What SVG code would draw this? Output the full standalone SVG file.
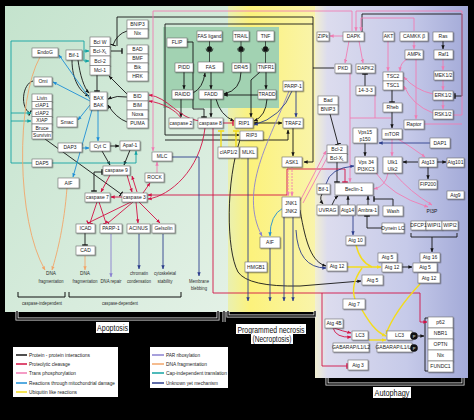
<svg xmlns="http://www.w3.org/2000/svg" width="474" height="420" viewBox="0 0 474 420">
<defs>
<linearGradient id="gG" x1="0" y1="0" x2="1" y2="1"><stop offset="0" stop-color="#c4e3cd"/><stop offset="1" stop-color="#e3f1e6"/></linearGradient>
<linearGradient id="gY" x1="0" y1="0" x2="1" y2="0"><stop offset="0" stop-color="#eaf0b0"/><stop offset="0.25" stop-color="#fcf27c"/><stop offset="1" stop-color="#f9f4ac"/></linearGradient>
<linearGradient id="gA" x1="0" y1="0" x2="1" y2="0"><stop offset="0" stop-color="#f2efd2"/><stop offset="0.08" stop-color="#dcdcee"/><stop offset="0.6" stop-color="#c6cae9"/><stop offset="1" stop-color="#a3aad8"/></linearGradient>
<filter id="sh" x="-20%" y="-20%" width="150%" height="160%"><feDropShadow dx="0.8" dy="0.8" stdDeviation="0.3" flood-color="#000" flood-opacity="0.45"/></filter>
<marker id="ak" viewBox="0 0 6 6" refX="5.5" refY="3" markerWidth="4" markerHeight="4" markerUnits="userSpaceOnUse" orient="auto-start-reverse"><path d="M0,0.5L6,3L0,5.5z" fill="#151515"/></marker>
<marker id="ar" viewBox="0 0 6 6" refX="5.5" refY="3" markerWidth="4" markerHeight="4" markerUnits="userSpaceOnUse" orient="auto-start-reverse"><path d="M0,0.5L6,3L0,5.5z" fill="#d31245"/></marker>
<marker id="ap" viewBox="0 0 6 6" refX="5.5" refY="3" markerWidth="4" markerHeight="4" markerUnits="userSpaceOnUse" orient="auto-start-reverse"><path d="M0,0.5L6,3L0,5.5z" fill="#f07db3"/></marker>
<marker id="ab" viewBox="0 0 6 6" refX="5.5" refY="3" markerWidth="4" markerHeight="4" markerUnits="userSpaceOnUse" orient="auto-start-reverse"><path d="M0,0.5L6,3L0,5.5z" fill="#1e8fd6"/></marker>
<marker id="ay" viewBox="0 0 6 6" refX="5.5" refY="3" markerWidth="4.5" markerHeight="4.5" markerUnits="userSpaceOnUse" orient="auto-start-reverse"><path d="M0,0.5L6,3L0,5.5z" fill="#f3dc1c"/></marker>
<marker id="alv" viewBox="0 0 6 6" refX="5.5" refY="3" markerWidth="4" markerHeight="4" markerUnits="userSpaceOnUse" orient="auto-start-reverse"><path d="M0,0.5L6,3L0,5.5z" fill="#8a80d0"/></marker>
<marker id="ao" viewBox="0 0 6 6" refX="5.5" refY="3" markerWidth="4" markerHeight="4" markerUnits="userSpaceOnUse" orient="auto-start-reverse"><path d="M0,0.5L6,3L0,5.5z" fill="#f2a66a"/></marker>
<marker id="at" viewBox="0 0 6 6" refX="5.5" refY="3" markerWidth="4" markerHeight="4" markerUnits="userSpaceOnUse" orient="auto-start-reverse"><path d="M0,0.5L6,3L0,5.5z" fill="#13a3a3"/></marker>
<marker id="an" viewBox="0 0 6 6" refX="5.5" refY="3" markerWidth="4" markerHeight="4" markerUnits="userSpaceOnUse" orient="auto-start-reverse"><path d="M0,0.5L6,3L0,5.5z" fill="#2c3e8c"/></marker>
<marker id="tk" viewBox="0 0 2 8" refX="1" refY="4" markerWidth="1.4" markerHeight="6" markerUnits="userSpaceOnUse" orient="auto"><rect width="2" height="8" fill="#151515"/></marker>
<marker id="tr" viewBox="0 0 2 8" refX="1" refY="4" markerWidth="1.4" markerHeight="6" markerUnits="userSpaceOnUse" orient="auto"><rect width="2" height="8" fill="#d31245"/></marker>
<marker id="ty" viewBox="0 0 2 8" refX="1" refY="4" markerWidth="1.6" markerHeight="7" markerUnits="userSpaceOnUse" orient="auto"><rect width="2" height="8" fill="#f3dc1c"/></marker>
</defs>
<style>
.n rect{fill:#fff;stroke:#6f6f6f;stroke-width:0.6;filter:url(#sh)}
.n text,.t{font-family:"Liberation Sans",Arial,sans-serif;font-size:5px;fill:#1a1a1a;text-anchor:middle}
.s{font-size:4.5px}
.lab{font-family:"Liberation Sans",Arial,sans-serif;font-size:4.7px;fill:#2a2a2a;text-anchor:middle}
.big{font-family:"Liberation Sans",Arial,sans-serif;font-size:9px;fill:#111;text-anchor:middle}
.leg{font-family:"Liberation Sans",Arial,sans-serif;font-size:6px;fill:#222}
#connectors path{fill:none;stroke-width:0.9}
.k{stroke:#151515}.r{stroke:#d31245}.p{stroke:#f07db3}.bl{stroke:#1e8fd6}.y{stroke:#f3dc1c;stroke-width:1.4!important}
.lv{stroke:#8a80d0}.o{stroke:#f2a66a}.tl{stroke:#13a3a3}.nv{stroke:#2c3e8c}
.br{fill:none;stroke:#111;stroke-width:1}
.bw{fill:none;stroke:#e8e8e8;stroke-width:3}
.bb{fill:none;stroke:#111;stroke-width:1.4}
</style>
<rect width="474" height="420" fill="#000"/>
<g id="panels">
<rect x="5" y="6" width="225" height="306" fill="url(#gG)"/>
<rect x="228" y="6" width="90" height="306" fill="url(#gY)"/>
<rect x="163" y="27" width="116" height="81" fill="#a2d2b2"/>
<rect x="315" y="6" width="153" height="372" fill="url(#gA)"/>
</g>
<g id="connectors">
<path class="k" d="M72,60 C72,80 80,92 89,96" marker-end="url(#ak)"/>
<path class="k" d="M78,60 C80,75 84,88 89,93" marker-end="url(#ak)"/>
<path class="k" d="M97,75 V91" marker-end="url(#tk)"/>
<path class="k" d="M127,94 L109,76" marker-end="url(#ak)"/>
<path class="k" d="M127,97 Q117,95 108,99" marker-end="url(#ak)"/>
<path class="k" d="M127,122 Q116,118 108,105" marker-end="url(#ak)"/>
<path class="k" d="M111,51 H122" marker-end="url(#tk)"/>
<path class="k" d="M127,31 Q117,34 113,45" marker-end="url(#tk)"/>
<path class="k" d="M117,46 V17 H313 V162 H304" marker-end="url(#ak)"/>
<path class="k" d="M334,68 H313"/>
<path class="k" d="M313,24 H165 V135 H239" marker-end="url(#ak)"/>
<path class="k" d="M165,140 H288 V130" marker-end="url(#ak)"/>
<path class="k" d="M362,32 V14 H462 V96 H455" marker-end="url(#tk)"/>
<path class="k" d="M110,146 H119" marker-end="url(#ak)"/>
<path class="k" d="M102,151 L110,165" marker-end="url(#ak)"/>
<path class="k" d="M130,150 L124,165" marker-end="url(#ak)"/>
<path class="k" d="M45,139 L121,194" marker-end="url(#tk)"/>
<path class="k" d="M94,172 H102" marker-end="url(#tk)"/>
<path class="k" d="M94,172 V191" marker-end="url(#tk)"/>
<path class="k" d="M33,81 C22,84 20,108 30,113" marker-end="url(#tk)"/>
<path class="k" d="M85,233 V245" marker-end="url(#tk)"/>
<path class="k" d="M184,72 V89" marker-end="url(#ak)"/>
<path class="k" d="M181,99 V117" marker-end="url(#ak)"/>
<path class="k" d="M211,72 V89" marker-end="url(#ak)"/>
<path class="k" d="M211,99 V117" marker-end="url(#ak)"/>
<path class="k" d="M193,93 Q203,88 205,73" marker-end="url(#ak)"/>
<path class="k" d="M241,72 Q241,90 224,94" marker-end="url(#ak)"/>
<path class="k" d="M266,72 V89" marker-end="url(#ak)"/>
<path class="k" d="M258,95 H224" marker-end="url(#ak)"/>
<path class="k" d="M267,99 Q266,116 254,121" marker-end="url(#ak)"/>
<path class="k" d="M260,72 L251,80 V117" marker-end="url(#ak)"/>
<path class="k" d="M216,99 Q220,115 234,121" marker-end="url(#ak)"/>
<path class="k" d="M187,42 H193 V109 H204 V117" marker-end="url(#tk)"/>
<path class="k" d="M254,123 H282" marker-start="url(#ak)" marker-end="url(#ak)"/>
<path class="k" d="M293,128 V156" marker-end="url(#ak)"/>
<path class="k" d="M365,86 V74" marker-end="url(#tk)"/>
<path class="k" d="M392,90 V102" marker-end="url(#tk)"/>
<path class="k" d="M443,41 V49" marker-end="url(#ak)"/>
<path class="k" d="M392,112 V128" marker-end="url(#ak)"/>
<path class="k" d="M365,143 V156" marker-end="url(#ak)"/>
<path class="k" d="M330,114 L338,144" marker-end="url(#tk)"/>
<path class="k" d="M337,162 V182" marker-end="url(#tk)"/>
<path class="k" d="M322,194 Q319,199 323,204" marker-end="url(#ak)"/>
<path class="k" d="M332,205 Q334,199 338,196" marker-end="url(#ak)"/>
<path class="k" d="M348,205 V196" marker-end="url(#ak)"/>
<path class="k" d="M368,205 V196" marker-end="url(#ak)"/>
<path class="k" d="M393,206 V199 H374" marker-end="url(#tk)"/>
<path class="k" d="M382,228 H367 V216" marker-end="url(#tk)"/>
<path class="k" d="M418,162 H403" marker-end="url(#ak)"/>
<path class="k" d="M437,162 H446" marker-end="url(#ak)"/>
<path class="k" d="M428,167 V179" marker-end="url(#ak)"/>
<path class="k" d="M411,233 V237 H457 V233"/>
<path class="k" d="M432,237 V252" marker-end="url(#ak)"/>
<path class="k" d="M402,267 H412" marker-end="url(#ak)"/>
<path class="k" d="M418,336 H424" marker-end="url(#ak)"/>
<path class="k" d="M428,318 H425 V371 H428"/>
<path class="k" d="M240,140 C226,180 226,250 238,272 Q248,287 300,286 L361,281" marker-end="url(#ak)"/>
<path class="k" d="M300,210 C306,245 312,262 326,266" marker-end="url(#ak)"/>
<path class="r" d="M110,175 L101,192" marker-end="url(#ar)"/>
<path class="r" d="M127,175 L132,192" marker-end="url(#ar)"/>
<path class="r" d="M137,192 L132,176" marker-end="url(#ar)"/>
<path class="r" d="M122,197 H111" marker-end="url(#ar)"/>
<path class="r" d="M131,202 L88,223" marker-end="url(#tr)"/>
<path class="r" d="M133,202 L108,223" marker-end="url(#tr)"/>
<path class="r" d="M136,202 L138,223" marker-end="url(#ar)"/>
<path class="r" d="M139,202 L160,223" marker-end="url(#ar)"/>
<path class="r" d="M97,202 L90,223" marker-end="url(#tr)"/>
<path class="r" d="M99,202 L106,223" marker-end="url(#tr)"/>
<path class="r" d="M143,193 L150,183" marker-end="url(#ar)"/>
<path class="r" d="M205,128 C200,170 170,196 148,199" marker-end="url(#ar)"/>
<path class="r" d="M199,121 C178,118 168,97 149,95" marker-end="url(#ar)"/>
<path class="r" d="M181,118 C176,110 162,103 149,101" marker-end="url(#ar)"/>
<path class="r" d="M223,123 H233" marker-end="url(#tr)"/>
<path class="r" d="M345,182 V169 H287 V195 H148" marker-start="url(#tr)" marker-end="url(#ar)"/>
<path class="r" d="M213,128 V293 H420 V322 H427" marker-end="url(#ar)"/>
<path class="r" d="M322,293 V366 H347" marker-end="url(#tr)"/>
<path class="r" d="M333,328 Q336,338 351,337" marker-end="url(#ar)"/>
<path class="r" d="M334,328 Q342,331 351,333" marker-end="url(#ar)"/>
<path class="p" d="M352,31 V11 H153 V151" marker-end="url(#ap)"/>
<path class="p" d="M157,173 V162" marker-end="url(#ap)"/>
<path class="p" d="M343,36 H330" marker-end="url(#ap)"/>
<path class="p" d="M349,41 L345,63" marker-end="url(#ap)"/>
<path class="p" d="M359,41 L363,63" marker-end="url(#ap)"/>
<path class="p" d="M453,115 H462 V11 H356 V31" marker-end="url(#ap)"/>
<path class="p" d="M414,31 V18 H361 V31" marker-end="url(#ap)"/>
<path class="p" d="M388,41 V71" marker-end="url(#ap)"/>
<path class="p" d="M414,41 V49" marker-end="url(#ap)"/>
<path class="p" d="M407,59 Q400,63 400,71" marker-end="url(#ap)"/>
<path class="p" d="M416,59 V119" marker-end="url(#ap)"/>
<path class="p" d="M443,59 V70" marker-end="url(#ap)"/>
<path class="p" d="M443,80 V90" marker-end="url(#ap)"/>
<path class="p" d="M443,100 V109" marker-end="url(#ap)"/>
<path class="p" d="M433,94 Q415,90 404,77" marker-end="url(#ap)"/>
<path class="p" d="M433,113 Q412,105 404,86" marker-end="url(#ap)"/>
<path class="p" d="M350,73 V182" marker-end="url(#ap)"/>
<path class="p" d="M350,118 H391"/>
<path class="p" d="M375,95 V118"/>
<path class="p" d="M392,139 V156" marker-end="url(#ap)"/>
<path class="p" d="M398,139 Q410,146 425,157" marker-end="url(#ap)"/>
<path class="p" d="M424,124 H462"/>
<path class="p" d="M376,173 Q390,195 428,207" marker-end="url(#ap)"/>
<path class="p" d="M394,173 Q410,192 432,205" marker-end="url(#ap)"/>
<path class="p" d="M388,173 Q386,186 374,189" marker-end="url(#ap)"/>
<path class="p" d="M300,201 L326,151" marker-end="url(#ap)"/>
<path class="p" d="M303,203 L328,156"/>
<path class="p" d="M288,167 V196" stroke-dasharray="2,1" marker-end="url(#ap)"/>
<path class="p" d="M292,167 V196" stroke-dasharray="2,1" marker-end="url(#ap)"/>
<path class="bl" d="M90,99 L59,55" marker-end="url(#ab)"/>
<path class="bl" d="M90,101 L53,82" marker-end="url(#ab)"/>
<path class="bl" d="M90,105 L78,120" marker-end="url(#ab)"/>
<path class="bl" d="M92,110 L73,177" marker-end="url(#ab)"/>
<path class="bl" d="M98,110 V141" marker-end="url(#ab)"/>
<path class="bl" d="M82,148 H89" marker-end="url(#ab)"/>
<path class="bl" d="M283,208 Q270,215 270,236" marker-end="url(#ab)"/>
<path class="tl" d="M32,163 H11 V41 H84 V61"/>
<path class="tl" d="M84,51 H89" marker-end="url(#at)"/>
<path class="tl" d="M84,61 H89" marker-end="url(#at)"/>
<path class="tl" d="M52,163 H136 V151" marker-end="url(#at)"/>
<path class="tl" d="M11,113 H31" marker-end="url(#at)"/>
<path class="tl" d="M11,121 H31" marker-end="url(#at)"/>
<path class="o" d="M40,57 C16,100 16,220 45,270" marker-end="url(#ao)"/>
<path class="o" d="M67,188 C64,225 58,250 52,270" marker-end="url(#ao)"/>
<path class="o" d="M85,256 V270" marker-end="url(#ao)"/>
<path class="lv" d="M111,234 V277" marker-end="url(#alv)"/>
<path class="lv" d="M289,91 C270,140 238,190 262,236" marker-end="url(#alv)"/>
<path class="nv" d="M139,234 V269" marker-end="url(#an)"/>
<path class="nv" d="M163,234 V269" marker-end="url(#an)"/>
<path class="nv" d="M172,157 H199 V276" marker-end="url(#an)"/>
<path class="nv" d="M292,91 Q282,117 254,125" marker-end="url(#an)"/>
<path class="nv" d="M296,91 V117" marker-end="url(#an)"/>
<path class="nv" d="M248,158 V301" marker-end="url(#an)"/>
<path class="nv" d="M270,248 V301" marker-end="url(#an)"/>
<path class="nv" d="M284,217 V301" marker-end="url(#an)"/>
<path class="nv" d="M293,217 V301" marker-end="url(#an)"/>
<path class="nv" d="M430,143 H379" marker-end="url(#an)"/>
<path class="nv" d="M326,184 Q330,168 354,166" marker-end="url(#an)"/>
<path class="nv" d="M353,216 V235" marker-end="url(#an)"/>
<path class="nv" d="M296,230 Q298,268 326,268" marker-end="url(#an)"/>
<path class="y" d="M221,147 V131" marker-end="url(#ty)"/>
<path class="y" d="M236,147 V131" marker-end="url(#ty)"/>
<path class="y" d="M347,267 H381" marker-end="url(#ay)"/>
<path class="y" d="M356,245 Q360,262 372,267"/>
<path class="y" d="M355,299 Q350,285 362,268"/>
<path class="y" d="M362,310 C368,320 375,332 386,336" marker-end="url(#ay)"/>
<path class="y" d="M420,284 C405,300 392,318 386,334" marker-end="url(#ay)"/>
<path class="y" d="M369,340 H386" marker-end="url(#ay)"/>
</g>
<g id="receptor-symbols" fill="#111" stroke="#111" stroke-width="0.7">
<path d="M209.5,41 V46.5 M241,41 V46.5 M265.5,41 V46.5" fill="none"/>
<circle cx="209.5" cy="49" r="2.4"/><circle cx="241" cy="49" r="2.4"/><circle cx="265.5" cy="49" r="2.4"/>
<path d="M206,48.5 A3.5,3.5 0 0 0 213,48.5 M237.5,48.5 A3.5,3.5 0 0 0 244.5,48.5 M262,48.5 A3.5,3.5 0 0 0 269,48.5 M209.5,52 V62 M241,52 V63 M265.5,52 V63" fill="none"/>
</g>
<g id="nodes">
<g id="n-bnip3" class="n"><rect x="127" y="20" width="21" height="9"/><rect x="127" y="29" width="21" height="9"/><text x="137.5" y="26.3">BNIP3</text><text x="137.5" y="35.3">Nix</text></g>
<g id="n-bad" class="n"><rect x="127" y="45" width="21" height="9"/><rect x="127" y="54" width="21" height="9"/><rect x="127" y="63" width="21" height="9"/><rect x="127" y="72" width="21" height="9"/><text x="137.5" y="51.3">BAD</text><text x="137.5" y="60.3">BMF</text><text x="137.5" y="69.3">Bik</text><text x="137.5" y="78.3">HRK</text></g>
<g id="n-bid" class="n"><rect x="127" y="92" width="21" height="9"/><rect x="127" y="101" width="21" height="9"/><rect x="127" y="110" width="21" height="9"/><rect x="127" y="119" width="21" height="9"/><text x="137.5" y="98.3">BID</text><text x="137.5" y="107.3">BIM</text><text x="137.5" y="116.3">Noxa</text><text x="137.5" y="125.3">PUMA</text></g>
<g id="n-bcl" class="n"><rect x="90" y="37" width="20" height="9.5"/><rect x="90" y="46.5" width="20" height="9.5"/><rect x="90" y="56" width="20" height="9.5"/><rect x="90" y="65.5" width="20" height="9.5"/><text x="100" y="43.5">Bcl W</text><text x="100" y="53">Bcl-X<tspan font-size="3.4" dy="1">L</tspan></text><text x="100" y="62.5">Bcl-2</text><text x="100" y="72">Mcl-1</text></g>
<g id="n-endog" class="n"><rect x="32" y="48" width="26" height="9"/><text x="45" y="54.3">EndoG</text></g>
<g id="n-bif1" class="n"><rect x="66" y="50" width="16" height="10"/><text x="74" y="56.8">Bif-1</text></g>
<g id="n-omi" class="n"><rect x="34" y="77" width="18" height="9"/><text x="43" y="83.3">Omi</text></g>
<g id="n-iap" class="n"><rect x="32" y="94" width="20" height="7.5"/><rect x="32" y="101.5" width="20" height="7.5"/><rect x="32" y="109" width="20" height="7.5"/><rect x="32" y="116.5" width="20" height="7.5"/><rect x="32" y="124" width="20" height="7.5"/><rect x="32" y="131.5" width="20" height="7.5"/><text class="s" x="42" y="99.5">Livin</text><text class="s" x="42" y="107">cIAP1</text><text class="s" x="42" y="114.5">cIAP2</text><text class="s" x="42" y="122">XIAP</text><text class="s" x="42" y="129.5">Bruce</text><text class="s" x="42" y="137">Survivin</text></g>
<g id="n-smac" class="n"><rect x="57" y="117" width="20" height="10"/><text x="67" y="123.8">Smac</text></g>
<g id="n-bax" class="n"><rect x="90" y="92" width="17" height="18"/><text x="98.5" y="99.5">BAX</text><text x="98.5" y="106.5">BAK</text></g>
<g id="n-dap3" class="n"><rect x="58" y="143" width="24" height="9"/><text x="70" y="149.3">DAP3</text></g>
<g id="n-cytc" class="n"><rect x="90" y="142" width="20" height="9"/><text x="100" y="148.3">Cyt C</text></g>
<g id="n-apaf1" class="n"><rect x="120" y="141" width="20" height="9"/><text x="130" y="147.3">Apaf-1</text></g>
<g id="n-dap5" class="n"><rect x="32" y="159" width="20" height="8"/><text x="42" y="164.8">DAP5</text></g>
<g id="n-aif" class="n"><rect x="58" y="178" width="21" height="10"/><text x="68.5" y="184.8">AIF</text></g>
<g id="n-casp9" class="n"><rect x="103" y="166" width="27" height="9"/><text x="116.5" y="172.3">caspase 9</text></g>
<g id="n-casp7" class="n"><rect x="85" y="193" width="25" height="9"/><text x="97.5" y="199.3">caspase 7</text></g>
<g id="n-casp3" class="n"><rect x="122" y="193" width="25" height="9"/><text x="134.5" y="199.3">caspase 3</text></g>
<g id="n-rock" class="n"><rect x="145" y="173" width="19" height="9"/><text x="154.5" y="179.3">ROCK</text></g>
<g id="n-mlc" class="n"><rect x="152" y="152" width="20" height="9"/><text x="162" y="158.3">MLC</text></g>
<g id="n-icad" class="n"><rect x="76" y="224" width="19" height="9"/><text x="85.5" y="230.3">ICAD</text></g>
<g id="n-cad" class="n"><rect x="76" y="246" width="19" height="9"/><text x="85.5" y="252.3">CAD</text></g>
<g id="n-parp1" class="n"><rect x="100" y="224" width="22" height="9"/><text x="111" y="230.3">PARP-1</text></g>
<g id="n-acinus" class="n"><rect x="127" y="224" width="23" height="9"/><text x="138.5" y="230.3">ACINUS</text></g>
<g id="n-gelsolin" class="n"><rect x="152" y="224" width="23" height="9"/><text x="163.5" y="230.3">Gelsolin</text></g>
<g id="n-flip" class="n"><rect x="167" y="38" width="20" height="9"/><text x="177" y="44.3">FLIP</text></g>
<g id="n-fasl" class="n"><rect x="197" y="31" width="25" height="10"/><text class="s" x="209.5" y="37.6">FAS ligand</text></g>
<g id="n-trail" class="n"><rect x="233" y="31" width="16" height="10"/><text x="241" y="37.8">TRAIL</text></g>
<g id="n-tnf" class="n"><rect x="257" y="31" width="17" height="10"/><text x="265.5" y="37.8">TNF</text></g>
<g id="n-pidd" class="n"><rect x="175" y="63" width="18" height="9"/><text x="184" y="69.3">PIDD</text></g>
<g id="n-fas" class="n"><rect x="198" y="62" width="25" height="10"/><text x="210.5" y="68.8">FAS</text></g>
<g id="n-dr45" class="n"><rect x="232" y="63" width="18" height="9"/><text x="241" y="69.3">DR4/5</text></g>
<g id="n-tnfr1" class="n"><rect x="257" y="63" width="18" height="9"/><text x="266" y="69.3">TNFR1</text></g>
<g id="n-raidd" class="n"><rect x="172" y="90" width="21" height="9"/><text x="182.5" y="96.3">RAIDD</text></g>
<g id="n-fadd" class="n"><rect x="199" y="90" width="24" height="9"/><text x="211" y="96.3">FADD</text></g>
<g id="n-tradd" class="n"><rect x="258" y="90" width="18" height="9"/><text x="267" y="96.3">TRADD</text></g>
<g id="n-casp2" class="n"><rect x="169" y="118" width="24" height="10"/><text x="181" y="124.8">caspase 2</text></g>
<g id="n-casp8" class="n"><rect x="198" y="118" width="25" height="10"/><text x="210.5" y="124.8">caspase 8</text></g>
<g id="n-rip1" class="n"><rect x="235" y="118" width="18" height="10"/><text x="244" y="124.8">RIP1</text></g>
<g id="n-rip3" class="n"><rect x="240" y="131" width="23" height="9"/><text x="251.5" y="137.3">RIP3</text></g>
<g id="n-ciap12" class="n"><rect x="218" y="147" width="21" height="11"/><text x="228.5" y="154.3">cIAP1/2</text></g>
<g id="n-mlkl" class="n"><rect x="240" y="147" width="17" height="11"/><text x="248.5" y="154.3">MLKL</text></g>
<g id="n-parp1n" class="n"><rect x="283" y="81" width="20" height="10"/><text x="293" y="87.8">PARP-1</text></g>
<g id="n-traf2" class="n"><rect x="283" y="118" width="20" height="10"/><text x="293" y="124.8">TRAF2</text></g>
<g id="n-ask1" class="n"><rect x="282" y="157" width="20" height="10"/><text x="292" y="163.8">ASK1</text></g>
<g id="n-jnk" class="n"><rect x="282" y="197" width="18" height="20"/><text x="291" y="205">JNK1</text><text x="291" y="213">JNK2</text></g>
<g id="n-aifn" class="n"><rect x="260" y="237" width="20" height="11"/><text x="270" y="244.3">AIF</text></g>
<g id="n-hmgb1" class="n"><rect x="245" y="262" width="22" height="10"/><text x="256" y="268.8">HMGB1</text></g>
<g id="n-zipk" class="n"><rect x="317" y="32" width="12" height="9"/><text x="323" y="38.3">ZIPk</text></g>
<g id="n-dapk" class="n"><rect x="343" y="32" width="21" height="9"/><text x="353.5" y="38.3">DAPK</text></g>
<g id="n-akt" class="n"><rect x="383" y="32" width="11" height="9"/><text x="388.5" y="38.3">AKT</text></g>
<g id="n-camkk" class="n"><rect x="400" y="32" width="28" height="9"/><text x="414" y="38.3">CAMKK β</text></g>
<g id="n-ras" class="n"><rect x="433" y="32" width="20" height="9"/><text x="443" y="38.3">Ras</text></g>
<g id="n-ampk" class="n"><rect x="405" y="50" width="18" height="9"/><text x="414" y="56.3">AMPk</text></g>
<g id="n-raf1" class="n"><rect x="434" y="50" width="19" height="9"/><text x="443.5" y="56.3">Raf1</text></g>
<g id="n-pkd" class="n"><rect x="335" y="64" width="16" height="9"/><text x="343" y="70.3">PKD</text></g>
<g id="n-dapk2" class="n"><rect x="356" y="64" width="19" height="9"/><text x="365.5" y="70.3">DAPK2</text></g>
<g id="n-tsc" class="n"><rect x="383" y="72" width="20" height="9"/><rect x="383" y="81" width="20" height="9"/><text x="393" y="78.3">TSC2</text><text x="393" y="87.3">TSC1</text></g>
<g id="n-mek" class="n"><rect x="434" y="71" width="19" height="9"/><text x="443.5" y="77.3">MEK1/2</text></g>
<g id="n-1433" class="n"><rect x="356" y="86" width="19" height="9"/><text x="365.5" y="92.3">14-3-3</text></g>
<g id="n-erk" class="n"><rect x="433" y="91" width="20" height="9"/><text x="443" y="97.3">ERK1/2</text></g>
<g id="n-badbnip3" class="n"><rect x="318" y="96" width="20" height="9"/><rect x="318" y="105" width="20" height="9"/><text x="328" y="102.3">Bad</text><text x="328" y="111.3">BNIP3</text></g>
<g id="n-rheb" class="n"><rect x="383" y="103" width="19" height="9"/><text x="392.5" y="109.3">Rheb</text></g>
<g id="n-rsk" class="n"><rect x="433" y="110" width="20" height="9"/><text x="443" y="116.3">RSK1/2</text></g>
<g id="n-raptor" class="n"><rect x="404" y="120" width="20" height="9"/><text x="414" y="126.3">Raptor</text></g>
<g id="n-mtor" class="n"><rect x="382" y="129" width="20" height="10"/><text x="392" y="135.8">mTOR</text></g>
<g id="n-vps15" class="n"><rect x="353" y="128" width="24" height="15"/><text x="365" y="134.3">Vps15</text><text x="365" y="140.5">p150</text></g>
<g id="n-dap1" class="n"><rect x="430" y="138" width="20" height="10"/><text x="440" y="144.8">DAP1</text></g>
<g id="n-bcl2a" class="n"><rect x="327" y="145" width="20" height="8.5"/><rect x="327" y="153.5" width="20" height="8.5"/><text x="337" y="151">Bcl-2</text><text x="337" y="159.5">Bcl-X<tspan font-size="3.4" dy="1">L</tspan></text></g>
<g id="n-vps34" class="n"><rect x="355" y="157" width="22" height="16"/><text x="366" y="164">Vps 34</text><text class="s" x="366" y="170.5">PI3KC3</text></g>
<g id="n-ulk" class="n"><rect x="383" y="157" width="19" height="16"/><text x="392.5" y="164">Ulk1</text><text x="392.5" y="170.5">Ulk2</text></g>
<g id="n-atg13" class="n"><rect x="419" y="158" width="18" height="9"/><text x="428" y="164.3">Atg13</text></g>
<g id="n-atg101" class="n"><rect x="447" y="158" width="17" height="9"/><text x="455.5" y="164.3">Atg101</text></g>
<g id="n-fip200" class="n"><rect x="419" y="180" width="18" height="9"/><text x="428" y="186.3">FIP200</text></g>
<g id="n-atg9" class="n"><rect x="447" y="191" width="17" height="8"/><text x="455.5" y="196.8">Atg9</text></g>
<g id="n-bif1a" class="n"><rect x="317" y="184" width="13" height="10"/><text x="323.5" y="190.8">Bif-1</text></g>
<g id="n-beclin1" class="n"><rect x="335" y="183" width="38" height="12"/><text x="354" y="190.8">Beclin-1</text></g>
<g id="n-uvrag" class="n"><rect x="317" y="205" width="21" height="10"/><text x="327.5" y="211.8">UVRAG</text></g>
<g id="n-atg14" class="n"><rect x="340" y="205" width="15" height="10"/><text x="347.5" y="211.8">Atg14</text></g>
<g id="n-ambra1" class="n"><rect x="357" y="205" width="21" height="10"/><text x="367.5" y="211.8">Ambra-1</text></g>
<g id="n-wash" class="n"><rect x="383" y="206" width="20" height="10"/><text x="393" y="212.8">Wash</text></g>
<text class="t" x="432" y="213">PI3P</text>
<g id="n-wipi" class="n"><rect x="411" y="221" width="15" height="9"/><rect x="426" y="221" width="16" height="9"/><rect x="442" y="221" width="16" height="9"/><text class="s" x="418.5" y="227.2">DFCP1</text><text class="s" x="434" y="227.2">WIPI1</text><text class="s" x="450" y="227.2">WIPI2</text></g>
<g id="n-dynein" class="n"><rect x="382" y="223" width="22" height="10"/><text class="s" x="393" y="229.6">Dynein LC</text></g>
<g id="n-atg10" class="n"><rect x="346" y="236" width="19" height="9"/><text x="355.5" y="242.3">Atg 10</text></g>
<g id="n-atg5-12" class="n"><rect x="378" y="253" width="19" height="9"/><rect x="382" y="263" width="20" height="9"/><text x="387.5" y="259.3">Atg 5</text><text x="392" y="269.3">Atg 12</text></g>
<g id="n-atg16" class="n"><rect x="420" y="253" width="20" height="9"/><rect x="413" y="263" width="24" height="9"/><rect x="418" y="273" width="22" height="10"/><text x="430" y="259.3">Atg 16</text><text x="425" y="269.3">Atg 5</text><text x="429" y="279.8">Atg 12</text></g>
<g id="n-atg12" class="n"><rect x="327" y="262" width="20" height="9"/><text x="337" y="268.3">Atg 12</text></g>
<g id="n-atg5" class="n"><rect x="362" y="275" width="21" height="10"/><text x="372.5" y="281.8">Atg 5</text></g>
<g id="n-atg7" class="n"><rect x="343" y="299" width="22" height="10"/><text x="354" y="305.8">Atg 7</text></g>
<g id="n-atg4b" class="n"><rect x="325" y="319" width="18" height="9"/><text x="334" y="325.3">Atg 4B</text></g>
<g id="n-lc3a" class="n"><rect x="352" y="331" width="16" height="9"/><rect x="333" y="343" width="36" height="9"/><text x="360" y="337.3">LC3</text><text x="351" y="349.3" font-size="4.3">GABARAP/L1/L2</text></g>
<g id="n-lc3b" class="n"><rect x="387" y="331" width="25" height="9"/><rect x="377" y="343" width="35" height="9"/><text x="399.5" y="337.3">LC3</text><text x="394.5" y="349.3" font-size="4.3">GABARAP/L1/L2</text></g>
<g id="n-p"><circle cx="414" cy="336" r="3.8" fill="#111"/><circle cx="414" cy="348" r="3.8" fill="#111"/><text class="t" x="414" y="337.6" style="fill:#fff;font-size:4px">P</text><text class="t" x="414" y="349.6" style="fill:#fff;font-size:4px">P</text></g>
<g id="n-receptors" class="n"><rect x="428" y="317" width="25" height="11"/><rect x="428" y="328" width="25" height="11"/><rect x="428" y="339" width="25" height="11"/><rect x="428" y="350" width="25" height="11"/><rect x="428" y="361" width="25" height="11"/><text x="440.5" y="324.3">p62</text><text x="440.5" y="335.3">NBR1</text><text x="440.5" y="346.3">OPTN</text><text x="440.5" y="357.3">Nix</text><text x="440.5" y="368.3">FUNDC1</text></g>
<g id="n-atg3" class="n"><rect x="348" y="360" width="20" height="10"/><text x="358" y="366.8">Atg 3</text></g>
</g>
<g id="outcomes">
<text class="lab" x="51" y="275">DNA</text><text class="lab" x="51" y="283" textLength="25" lengthAdjust="spacingAndGlyphs">fragmentation</text>
<text class="lab" x="85" y="275">DNA</text><text class="lab" x="85" y="283" textLength="25" lengthAdjust="spacingAndGlyphs">fragmentation</text>
<text class="lab" x="111" y="283" textLength="21" lengthAdjust="spacingAndGlyphs">DNA repair</text>
<text class="lab" x="139" y="275" textLength="18" lengthAdjust="spacingAndGlyphs">chromatin</text><text class="lab" x="139" y="283" textLength="24" lengthAdjust="spacingAndGlyphs">condensation</text>
<text class="lab" x="165" y="275" textLength="22" lengthAdjust="spacingAndGlyphs">cytoskeletal</text><text class="lab" x="165" y="283" textLength="15" lengthAdjust="spacingAndGlyphs">stability</text>
<text class="lab" x="199" y="283" textLength="20" lengthAdjust="spacingAndGlyphs">Membrane</text><text class="lab" x="199" y="290" textLength="16" lengthAdjust="spacingAndGlyphs">blebbing</text>
<path class="br" d="M18,292 V297 H65 V292 M69,292 V297 H181 V292"/>
<text class="lab" x="42" y="305" textLength="40" lengthAdjust="spacingAndGlyphs">caspase-independent</text>
<text class="lab" x="120" y="305" textLength="36" lengthAdjust="spacingAndGlyphs">caspase-dependent</text>
</g>
<g id="brackets">
<path class="bw" d="M17,311 V319 H218 V311 M224,311 V322 M228,311 V316 H315 V311 M327,378 V384 H463 V378"/>
<path class="bb" d="M17,311 V319 H218 V311 M224,311 V322 M228,311 V316 H315 V311 M327,378 V384 H463 V378"/>
<rect x="96" y="322" width="33" height="11" fill="#fff"/>
<text class="big" x="112.5" y="331" textLength="31" lengthAdjust="spacingAndGlyphs">Apoptosis</text>
<rect x="236" y="324" width="70" height="10" fill="#fff"/>
<text class="big" x="271" y="332.5" textLength="67" lengthAdjust="spacingAndGlyphs">Programmed necrosis</text>
<rect x="251" y="334" width="42" height="10" fill="#fff"/>
<text class="big" x="272" y="342.3" textLength="39" lengthAdjust="spacingAndGlyphs">(Necroptosis)</text>
<rect x="373" y="387" width="38" height="11" fill="#fff"/>
<text class="big" x="392" y="396" textLength="35" lengthAdjust="spacingAndGlyphs">Autophagy</text>
</g>
<g id="legend">
<rect x="13" y="347" width="105" height="50" fill="#fff"/>
<path d="M16,355 H27" stroke="#151515" stroke-width="1.5"/>
<path d="M16,364 H27" stroke="#d31245" stroke-width="1.5"/>
<path d="M16,373 H27" stroke="#f07db3" stroke-width="1.5"/>
<path d="M16,383 H27" stroke="#1e8fd6" stroke-width="1.5"/>
<path d="M16,392 H27" stroke="#f3dc1c" stroke-width="1.5"/>
<text class="leg" x="29" y="357" textLength="61" lengthAdjust="spacingAndGlyphs">Protein - protein interactions</text>
<text class="leg" x="29" y="366" textLength="41" lengthAdjust="spacingAndGlyphs">Proteolytic cleavage</text>
<text class="leg" x="29" y="375" textLength="47" lengthAdjust="spacingAndGlyphs">Trans phosphorylation</text>
<text class="leg" x="29" y="385" textLength="86" lengthAdjust="spacingAndGlyphs">Reactions through mitochondrial damage</text>
<text class="leg" x="29" y="394" textLength="48" lengthAdjust="spacingAndGlyphs">Ubiquitin like reactions</text>
<rect x="150" y="347" width="78" height="41" fill="#fff"/>
<path d="M152,355 H164" stroke="#8a80d0" stroke-width="1.5"/>
<path d="M152,364 H164" stroke="#f2a66a" stroke-width="1.5"/>
<path d="M152,373 H164" stroke="#13a3a3" stroke-width="1.5"/>
<path d="M152,383 H164" stroke="#2c3e8c" stroke-width="1.5"/>
<text class="leg" x="166" y="357" textLength="34" lengthAdjust="spacingAndGlyphs">PAR ribosylation</text>
<text class="leg" x="166" y="366" textLength="41" lengthAdjust="spacingAndGlyphs">DNA fragmentation</text>
<text class="leg" x="166" y="375" textLength="61" lengthAdjust="spacingAndGlyphs">Cap-independent translation</text>
<text class="leg" x="166" y="385" textLength="52" lengthAdjust="spacingAndGlyphs">Unknown yet mechanism</text>
</g>
</svg>
